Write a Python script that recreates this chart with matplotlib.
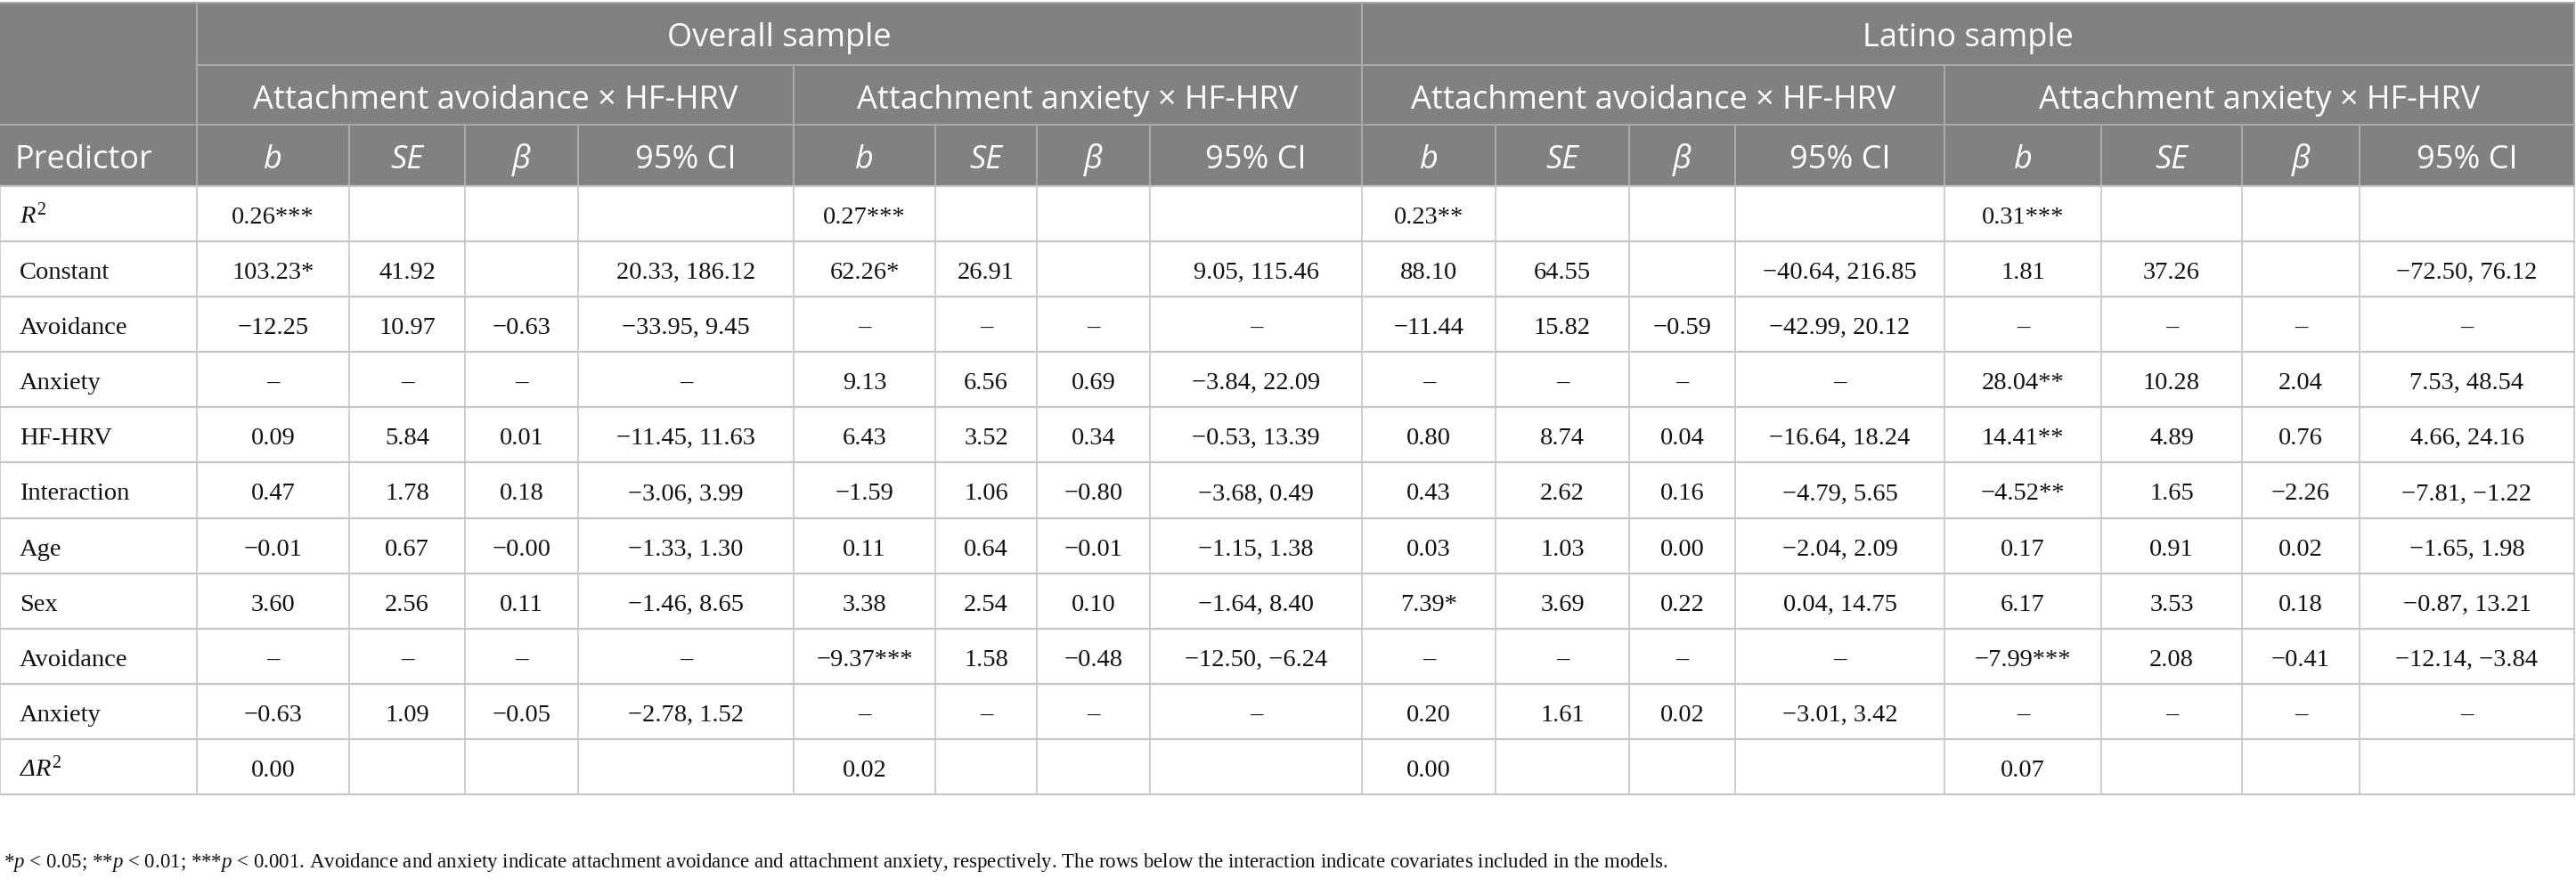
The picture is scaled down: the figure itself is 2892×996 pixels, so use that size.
import matplotlib
matplotlib.use("agg")
import matplotlib.pyplot as plt
from matplotlib.patches import Rectangle

# ---- table content -------------------------------------------------------
SAMPLES = ["Overall sample", "Latino sample"]
MODELS = ["Attachment avoidance × HF-HRV", "Attachment anxiety × HF-HRV",
          "Attachment avoidance × HF-HRV", "Attachment anxiety × HF-HRV"]
STAT_HEADERS = ["b", "SE", "β", "95% CI"]

PREDICTORS = ["$R^2$", "Constant", "Avoidance", "Anxiety", "HF-HRV", "Interaction",
              "Age", "Sex", "Avoidance", "Anxiety", "Δ$R^2$"]

# overall sample, attachment avoidance x HF-HRV
overall_avoid_b = ["0.26***", "103.23*", "−12.25", "–", "0.09", "0.47", "−0.01", "3.60", "–", "−0.63", "0.00"]
overall_avoid_se = ["", "41.92", "10.97", "–", "5.84", "1.78", "0.67", "2.56", "–", "1.09", ""]
overall_avoid_beta = ["", "", "−0.63", "–", "0.01", "0.18", "−0.00", "0.11", "–", "−0.05", ""]
overall_avoid_ci = ["", "20.33, 186.12", "−33.95, 9.45", "–", "−11.45, 11.63", "−3.06, 3.99",
                    "−1.33, 1.30", "−1.46, 8.65", "–", "−2.78, 1.52", ""]

# overall sample, attachment anxiety x HF-HRV
overall_anx_b = ["0.27***", "62.26*", "–", "9.13", "6.43", "−1.59", "0.11", "3.38", "−9.37***", "–", "0.02"]
overall_anx_se = ["", "26.91", "–", "6.56", "3.52", "1.06", "0.64", "2.54", "1.58", "–", ""]
overall_anx_beta = ["", "", "–", "0.69", "0.34", "−0.80", "−0.01", "0.10", "−0.48", "–", ""]
overall_anx_ci = ["", "9.05, 115.46", "–", "−3.84, 22.09", "−0.53, 13.39", "−3.68, 0.49",
                  "−1.15, 1.38", "−1.64, 8.40", "−12.50, −6.24", "–", ""]

# latino sample, attachment avoidance x HF-HRV
latino_avoid_b = ["0.23**", "88.10", "−11.44", "–", "0.80", "0.43", "0.03", "7.39*", "–", "0.20", "0.00"]
latino_avoid_se = ["", "64.55", "15.82", "–", "8.74", "2.62", "1.03", "3.69", "–", "1.61", ""]
latino_avoid_beta = ["", "", "−0.59", "–", "0.04", "0.16", "0.00", "0.22", "–", "0.02", ""]
latino_avoid_ci = ["", "−40.64, 216.85", "−42.99, 20.12", "–", "−16.64, 18.24", "−4.79, 5.65",
                   "−2.04, 2.09", "0.04, 14.75", "–", "−3.01, 3.42", ""]

# latino sample, attachment anxiety x HF-HRV
latino_anx_b = ["0.31***", "1.81", "–", "28.04**", "14.41**", "−4.52**", "0.17", "6.17", "−7.99***", "–", "0.07"]
latino_anx_se = ["", "37.26", "–", "10.28", "4.89", "1.65", "0.91", "3.53", "2.08", "–", ""]
latino_anx_beta = ["", "", "–", "2.04", "0.76", "−2.26", "0.02", "0.18", "−0.41", "–", ""]
latino_anx_ci = ["", "−72.50, 76.12", "–", "7.53, 48.54", "4.66, 24.16", "−7.81, −1.22",
                 "−1.65, 1.98", "−0.87, 13.21", "−12.14, −3.84", "–", ""]

FOOTNOTE = ("*$p$ < 0.05; **$p$ < 0.01; ***$p$ < 0.001. Avoidance and anxiety indicate "
            "attachment avoidance and attachment anxiety, respectively. The rows below the "
            "interaction indicate covariates included in the models.")

# ---- layout (pixels) -----------------------------------------------------
WIDTH, HEIGHT = 2892, 996
COL_EDGES = [0, 221, 392, 522, 649, 891, 1050, 1164, 1291, 1529,
             1679, 1829, 1948, 2183, 2359, 2517, 2649, 2890]
HEAD_EDGES = [3, 73, 140, 209]
BODY_TOP, BODY_BOTTOM = 209, 892
HEAD_BASELINE = 49   # baseline offset from the top of a header row
BODY_BASELINE = 42   # baseline offset from the top of a body row

HEAD_BG = "#808180"
HEAD_LINE = "#a9a9a9"
BODY_LINE = "#c6c6c6"
HEAD_FONT = "Open Sans"
BODY_FONT = "Liberation Serif"

plt.rcParams["mathtext.fontset"] = "custom"
plt.rcParams["mathtext.rm"] = "Liberation Serif"
plt.rcParams["mathtext.it"] = "Liberation Serif:italic"


def _columns():
    """Return the body columns in drawing order."""
    return [
        overall_avoid_b, overall_avoid_se, overall_avoid_beta, overall_avoid_ci,
        overall_anx_b, overall_anx_se, overall_anx_beta, overall_anx_ci,
        latino_avoid_b, latino_avoid_se, latino_avoid_beta, latino_avoid_ci,
        latino_anx_b, latino_anx_se, latino_anx_beta, latino_anx_ci,
    ]


def _mid(a, b):
    return (a + b) / 2


def draw_header(ax):
    """Grey header block with three rows of labels."""
    x0, x1 = COL_EDGES[0], COL_EDGES[-1]
    y0, y3 = HEAD_EDGES[0], HEAD_EDGES[-1]
    ax.add_patch(Rectangle((x0, y0), x1 - x0, y3 - y0, facecolor=HEAD_BG, edgecolor="none", zorder=1))

    lw = 1.5
    # horizontal lines
    ax.plot([x0, x1], [y0, y0], color=HEAD_LINE, lw=lw, zorder=2)
    ax.plot([COL_EDGES[1], x1], [HEAD_EDGES[1]] * 2, color=HEAD_LINE, lw=lw, zorder=2)
    ax.plot([x0, x1], [HEAD_EDGES[2]] * 2, color=HEAD_LINE, lw=lw, zorder=2)

    # vertical lines
    ax.plot([COL_EDGES[1]] * 2, [y0, y3], color=HEAD_LINE, lw=lw, zorder=2)
    ax.plot([COL_EDGES[9]] * 2, [y0, y3], color=HEAD_LINE, lw=lw, zorder=2)
    for i in (5, 13):
        ax.plot([COL_EDGES[i]] * 2, [HEAD_EDGES[1], y3], color=HEAD_LINE, lw=lw, zorder=2)
    for i in range(2, len(COL_EDGES) - 1):
        ax.plot([COL_EDGES[i]] * 2, [HEAD_EDGES[2], y3], color=HEAD_LINE, lw=lw, zorder=2)
    ax.plot([x1] * 2, [y0, y3], color=HEAD_LINE, lw=lw, zorder=2)

    kw = dict(color="white", fontsize=26, family=HEAD_FONT, ha="center", va="baseline", zorder=3)
    y_row1 = HEAD_EDGES[0] + HEAD_BASELINE
    y_row2 = HEAD_EDGES[1] + HEAD_BASELINE
    y_row3 = HEAD_EDGES[2] + HEAD_BASELINE

    for s, name in enumerate(SAMPLES):
        ax.text(_mid(COL_EDGES[1 + 8 * s], COL_EDGES[9 + 8 * s]), y_row1, name, **kw)
    for m, name in enumerate(MODELS):
        ax.text(_mid(COL_EDGES[1 + 4 * m], COL_EDGES[5 + 4 * m]), y_row2, name, **kw)

    ax.text(COL_EDGES[0] + 17, y_row3, "Predictor", **{**kw, "ha": "left"})
    for m in range(len(MODELS)):
        for k, label in enumerate(STAT_HEADERS):
            c = 1 + 4 * m + k
            style = "normal" if label == "95% CI" else "italic"
            ax.text(_mid(COL_EDGES[c], COL_EDGES[c + 1]), y_row3, label, style=style, **kw)


def draw_body(ax):
    """White body with predictor names and coefficients."""
    n_rows = len(PREDICTORS)
    row_h = (BODY_BOTTOM - BODY_TOP) / n_rows
    x0, x1 = COL_EDGES[0], COL_EDGES[-1]

    for r in range(1, n_rows + 1):
        y = BODY_TOP + r * row_h
        ax.plot([x0, x1], [y, y], color=BODY_LINE, lw=1.6, zorder=2)
    ax.plot([x0, x1], [BODY_TOP, BODY_TOP], color=BODY_LINE, lw=1.6, zorder=2)
    for x in COL_EDGES:
        ax.plot([x, x], [BODY_TOP, BODY_BOTTOM], color=BODY_LINE, lw=1.2, zorder=2)

    kw = dict(color="#111111", fontsize=20.5, family=BODY_FONT, va="baseline", zorder=3)
    for r, name in enumerate(PREDICTORS):
        yb = BODY_TOP + r * row_h + BODY_BASELINE
        style = "italic" if name.startswith("Δ") else "normal"
        ax.text(COL_EDGES[0] + 22, yb, name, ha="left", style=style, **kw)

    for c, values in enumerate(_columns()):
        xc = _mid(COL_EDGES[c + 1], COL_EDGES[c + 2])
        for r, value in enumerate(values):
            if value:
                yb = BODY_TOP + r * row_h + BODY_BASELINE
                ax.text(xc, yb, value, ha="center", **kw)


def table_plot():
    fig = plt.figure(figsize=(WIDTH / 100, HEIGHT / 100), dpi=100)
    ax = fig.add_axes([0, 0, 1, 1])
    ax.set_xlim(0, WIDTH)
    ax.set_ylim(HEIGHT, 0)
    ax.axis("off")

    draw_header(ax)
    draw_body(ax)

    ax.text(4, 974, FOOTNOTE, fontsize=16.5, family=BODY_FONT, color="#111111",
            ha="left", va="baseline")

    fig.savefig("out.png", dpi=100, facecolor="white")
    plt.close(fig)


if __name__ == "__main__":
    table_plot()
